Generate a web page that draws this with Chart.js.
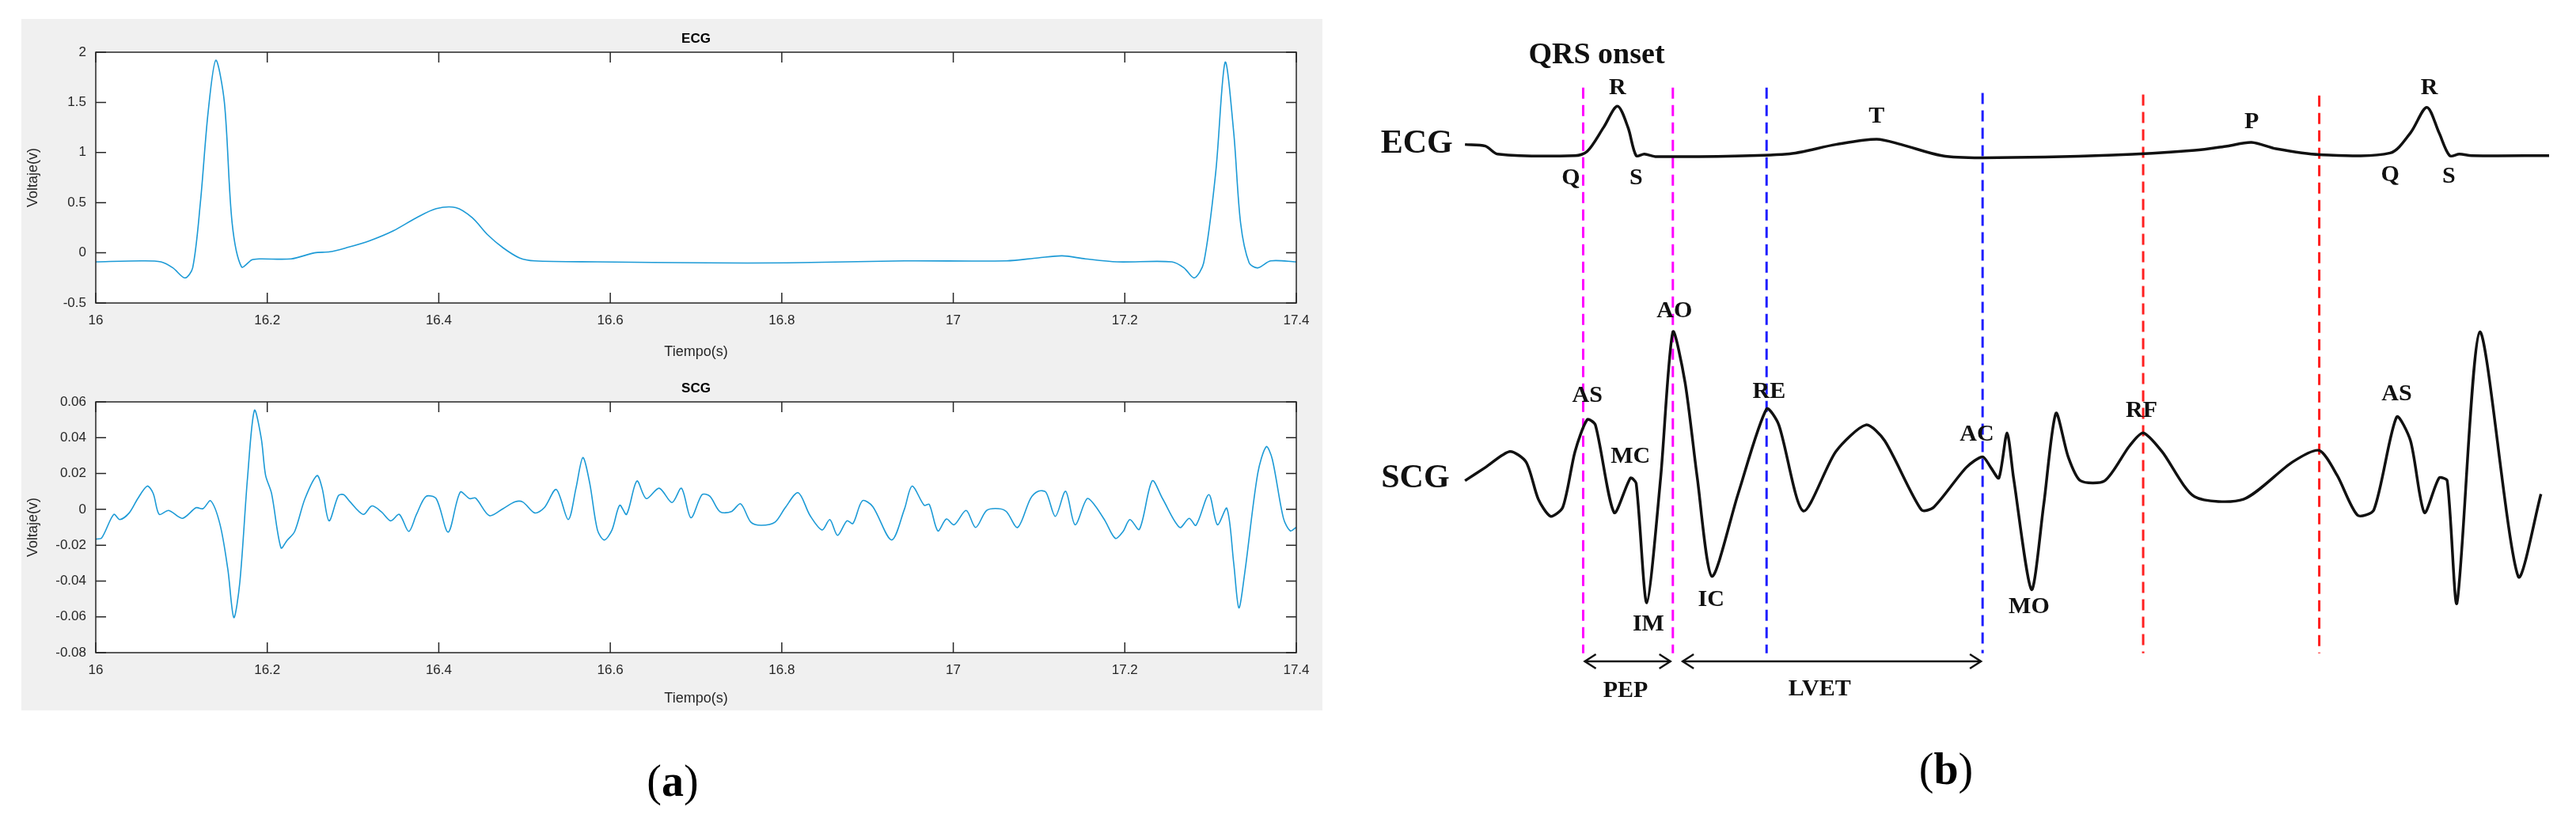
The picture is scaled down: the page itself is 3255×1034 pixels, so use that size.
<!DOCTYPE html>
<html>
<head>
<meta charset="utf-8">
<script src="https://cdn.jsdelivr.net/npm/chart.js@4.4.0/dist/chart.umd.min.js"></script>
<style>
  body { margin: 0; background: #fff; width: 3255px; height: 1034px; position: relative; overflow: hidden; }
  #panelA { position: absolute; left: 27px; top: 24px; width: 1644px; height: 874px; background: #f0f0f0; }
  canvas { position: absolute; }
  .cap { position: absolute; font-family: 'Liberation Serif', serif; font-size: 56px; transform: translateX(-50%); }
</style>
</head>
<body>
<div id="panelA"></div>
<canvas id="ecgChart" style="left:27px;top:24px;width:1644px;height:436px" width="1644" height="436"></canvas>
<canvas id="scgChart" style="left:27px;top:462px;width:1644px;height:436px" width="1644" height="436"></canvas>
<canvas id="schemChart" style="left:1640px;top:0;width:1615px;height:1034px" width="1615" height="1034"></canvas>
<div class="cap" style="left:850px;top:955px">(<b>a</b>)</div>
<div class="cap" style="left:2459px;top:940px">(<b>b</b>)</div>
<script>
// Panel (a): recorded signals
const ecgTime = [16.000, 16.053, 16.076, 16.090, 16.104, 16.113, 16.122, 16.131, 16.140, 16.150, 16.159, 16.170, 16.182, 16.191, 16.228, 16.255, 16.273, 16.292, 16.319, 16.347, 16.374, 16.397, 16.420, 16.439, 16.457, 16.475, 16.494, 16.512, 16.585, 16.714, 16.806, 16.943, 17.062, 17.099, 17.127, 17.154, 17.191, 17.255, 17.269, 17.281, 17.292, 17.306, 17.317, 17.327, 17.335, 17.345, 17.355, 17.370, 17.400];
const ecgVolt = [-0.09, -0.08, -0.09, -0.15, -0.25, -0.15, 0.5, 1.4, 1.92, 1.5, 0.3, -0.14, -0.07, -0.06, -0.06, 0.0, 0.01, 0.05, 0.12, 0.22, 0.35, 0.44, 0.45, 0.35, 0.18, 0.05, -0.05, -0.08, -0.09, -0.1, -0.1, -0.08, -0.08, -0.05, -0.03, -0.06, -0.09, -0.09, -0.15, -0.25, -0.1, 0.8, 1.9, 1.2, 0.3, -0.1, -0.15, -0.08, -0.09];

const scgTime = [16.000, 16.007, 16.021, 16.028, 16.039, 16.049, 16.060, 16.067, 16.074, 16.085, 16.101, 16.117, 16.125, 16.134, 16.145, 16.154, 16.161, 16.168, 16.177, 16.185, 16.193, 16.198, 16.205, 16.216, 16.223, 16.232, 16.244, 16.258, 16.264, 16.272, 16.283, 16.289, 16.296, 16.312, 16.322, 16.333, 16.344, 16.354, 16.365, 16.374, 16.385, 16.397, 16.411, 16.425, 16.436, 16.443, 16.459, 16.475, 16.489, 16.498, 16.512, 16.523, 16.537, 16.551, 16.560, 16.568, 16.576, 16.585, 16.593, 16.602, 16.611, 16.619, 16.631, 16.642, 16.657, 16.672, 16.683, 16.694, 16.707, 16.716, 16.728, 16.741, 16.752, 16.764, 16.776, 16.792, 16.804, 16.819, 16.833, 16.847, 16.856, 16.865, 16.876, 16.883, 16.894, 16.906, 16.928, 16.943, 16.952, 16.966, 16.972, 16.982, 16.992, 17.001, 17.015, 17.026, 17.039, 17.053, 17.062, 17.075, 17.090, 17.099, 17.108, 17.119, 17.131, 17.142, 17.156, 17.165, 17.177, 17.189, 17.198, 17.206, 17.217, 17.232, 17.244, 17.264, 17.275, 17.283, 17.298, 17.308, 17.319, 17.327, 17.333, 17.340, 17.355, 17.365, 17.372, 17.385, 17.393, 17.400];
const scgVolt = [-0.0166, -0.0159, -0.0028, -0.0057, -0.0020, 0.0060, 0.0130, 0.0089, -0.0028, -0.0006, -0.0050, 0.0009, 0.0004, 0.0048, -0.0086, -0.0334, -0.0604, -0.0407, 0.0177, 0.0553, 0.0396, 0.0191, 0.0089, -0.0215, -0.0174, -0.0123, 0.0060, 0.0188, 0.0118, -0.0064, 0.0077, 0.0082, 0.0045, -0.0028, 0.0019, -0.0013, -0.0064, -0.0028, -0.0123, -0.0028, 0.0072, 0.0060, -0.0127, 0.0096, 0.0060, 0.0063, -0.0035, 0.0004, 0.0042, 0.0041, -0.0020, 0.0009, 0.0111, -0.0057, 0.0118, 0.0289, 0.0147, -0.0115, -0.0171, -0.0115, 0.0023, -0.0028, 0.0158, 0.0060, 0.0118, 0.0038, 0.0118, -0.0047, 0.0082, 0.0074, -0.0013, -0.0013, 0.0031, -0.0072, -0.0089, -0.0072, 0.0009, 0.0093, -0.0035, -0.0115, -0.0057, -0.0145, -0.0064, -0.0079, 0.0048, 0.0016, -0.0171, 0.0001, 0.0130, 0.0023, 0.0028, -0.0120, -0.0054, -0.0086, -0.0006, -0.0101, -0.0006, 0.0004, -0.0013, -0.0101, 0.0060, 0.0101, 0.0096, -0.0039, 0.0101, -0.0086, 0.0060, 0.0023, -0.0064, -0.0162, -0.0123, -0.0057, -0.0112, 0.0159, 0.0060, -0.0101, -0.0050, -0.0089, 0.0082, -0.0086, 0.0006, -0.030, -0.055, -0.035, 0.020, 0.035, 0.028, -0.005, -0.012, -0.010];

const timeTicks = [16, 16.2, 16.4, 16.6, 16.8, 17, 17.2, 17.4];
const ecgTicks = [-0.5, 0, 0.5, 1, 1.5, 2];
const scgTicks = [-0.08, -0.06, -0.04, -0.02, 0, 0.02, 0.04, 0.06];

// Panel (b): schematic traces (drawing units)
const schemEcgX = [205, 230, 245, 340, 355, 375, 392, 405, 415, 425, 440, 600, 660, 710, 740, 790, 840, 1000, 1100, 1140, 1170, 1200, 1253, 1340, 1365, 1385, 1400, 1413, 1425, 1440, 1535];
const schemEcgY = [272, 275, 290, 293, 285, 240, 200, 240, 293, 290, 295, 290, 272, 262, 272, 293, 297, 292, 283, 275, 268, 280, 291, 288, 250, 202, 250, 293, 290, 293, 293];
const schemScgX = [205, 230, 260, 280, 295, 310, 325, 340, 355, 365, 388, 408, 415, 428, 445, 460, 475, 490, 508, 540, 575, 590, 620, 660, 697, 720, 765, 780, 820, 840, 850, 860, 870, 878, 900, 915, 930, 945, 960, 990, 1020, 1037, 1060, 1100, 1160, 1220, 1253, 1275, 1300, 1320, 1348, 1365, 1382, 1400, 1410, 1422, 1450, 1497, 1525];
const schemScgY = [905, 880, 850, 870, 940, 972, 955, 850, 790, 800, 965, 900, 910, 1135, 900, 625, 720, 900, 1085, 930, 770, 800, 962, 850, 800, 830, 960, 955, 880, 860, 880, 900, 815, 900, 1110, 950, 778, 860, 905, 905, 840, 815, 850, 935, 940, 870, 848, 895, 970, 960, 785, 830, 965, 900, 905, 1135, 625, 1085, 930];

const markerX = [350, 460, 575, 840, 1037, 1253];
const markerTop = [165, 165, 165, 175, 178, 180];
const markerColor = ['#ff00ff', '#ff00ff', '#1f1fff', '#1f1fff', '#ff2020', '#ff2020'];
const markerBottom = 1230;

const waveLabels = ['R', 'Q', 'S', 'T', 'P', 'R', 'Q', 'S', 'AS', 'MC', 'AO', 'IM', 'IC', 'RE', 'AC', 'MO', 'RF', 'AS', 'PEP', 'LVET'];
const waveLabelX = [392, 335, 415, 710, 1170, 1388, 1340, 1412, 355, 408, 462, 430, 507, 578, 833, 897, 1035, 1348, 402, 640];
const waveLabelY = [165, 335, 335, 220, 230, 165, 330, 333, 745, 860, 585, 1175, 1130, 738, 818, 1143, 773, 742, 1300, 1297];

const arrowFrom = [352, 472];
const arrowTo = [457, 838];
const arrowY = 1245;

const lineBlue = '#1c9ad6';

function zip(xs, ys) {
    return xs.map((x, i) => ({ x: x, y: ys[i] }));
}

function fmt(v) {
    return String(Math.round(v * 1000) / 1000);
}

// MATLAB-like box with inward ticks and centred title
const matlabBox = {
    id: 'matlabBox',
    beforeDatasetsDraw(chart) {
        const { ctx, chartArea: a } = chart;
        ctx.save();
        ctx.fillStyle = '#fff';
        ctx.fillRect(a.left, a.top, a.right - a.left, a.bottom - a.top);
        ctx.restore();
    },
    afterDraw(chart, args, opts) {
        const { ctx, chartArea: a, scales } = chart;
        ctx.save();
        ctx.strokeStyle = '#262626';
        ctx.lineWidth = 1.5;
        ctx.strokeRect(a.left, a.top, a.right - a.left, a.bottom - a.top);
        ctx.beginPath();
        opts.xTicks.forEach(v => {
            const px = scales.x.getPixelForValue(v);
            ctx.moveTo(px, a.bottom); ctx.lineTo(px, a.bottom - 13);
            ctx.moveTo(px, a.top); ctx.lineTo(px, a.top + 13);
        });
        opts.yTicks.forEach(v => {
            const py = scales.y.getPixelForValue(v);
            ctx.moveTo(a.left, py); ctx.lineTo(a.left + 13, py);
            ctx.moveTo(a.right, py); ctx.lineTo(a.right - 13, py);
        });
        ctx.stroke();
        ctx.fillStyle = '#000';
        ctx.font = 'bold 17px "Liberation Sans", Arial';
        ctx.textAlign = 'center';
        ctx.textBaseline = 'bottom';
        ctx.fillText(opts.title, (a.left + a.right) / 2, a.top - 8);
        ctx.restore();
    }
};

function signalChart(id, xs, ys, yTicks, title, padTop) {
    const yMin = yTicks[0], yMax = yTicks[yTicks.length - 1];
    return new Chart(document.getElementById(id), {
        type: 'line',
        data: { datasets: [{ data: zip(xs, ys), borderColor: lineBlue, borderWidth: 1.6, pointRadius: 0, tension: 0.3 }] },
        options: {
            responsive: false, animation: false,
            layout: { padding: { top: padTop, right: 33, left: 0, bottom: 0 } },
            plugins: { legend: { display: false }, tooltip: { enabled: false },
                matlabBox: { title: title, xTicks: timeTicks, yTicks: yTicks } },
            scales: {
                x: {
                    type: 'linear', min: 16, max: 17.4,
                    afterBuildTicks: s => { s.ticks = timeTicks.map(v => ({ value: v })); },
                    afterFit: s => { s.height = 436 - padTop - 317; },
                    grid: { display: false }, border: { display: false },
                    ticks: { callback: fmt, color: '#262626', font: { family: '"Liberation Sans", Arial', size: 17 }, maxRotation: 0, padding: 4 },
                    title: { display: true, text: 'Tiempo(s)', color: '#262626', font: { family: '"Liberation Sans", Arial', size: 18 }, padding: { top: 2 } }
                },
                y: {
                    type: 'linear', min: yMin, max: yMax,
                    afterBuildTicks: s => { s.ticks = yTicks.map(v => ({ value: v })); },
                    afterFit: s => { s.width = 94; },
                    grid: { display: false }, border: { display: false },
                    ticks: { callback: fmt, color: '#262626', font: { family: '"Liberation Sans", Arial', size: 17 }, padding: 4 },
                    title: { display: true, text: 'Voltaje(v)', color: '#262626', font: { family: '"Liberation Sans", Arial', size: 18 }, padding: { bottom: 2 } }
                }
            }
        },
        plugins: [matlabBox]
    });
}

signalChart('ecgChart', ecgTime, ecgVolt, ecgTicks, 'ECG', 42);
signalChart('scgChart', scgTime, scgVolt, scgTicks, 'SCG', 46);

// Schematic annotations
const schemNotes = {
    id: 'schemNotes',
    afterDraw(chart) {
        const { ctx, scales: { x, y } } = chart;
        ctx.save();
        ctx.fillStyle = '#111';
        ctx.textAlign = 'center';
        ctx.textBaseline = 'middle';
        ctx.font = 'bold 30px "Liberation Serif", serif';
        waveLabels.forEach((t, i) => {
            ctx.fillText(t, x.getPixelForValue(waveLabelX[i]), y.getPixelForValue(waveLabelY[i]));
        });
        ctx.font = 'bold 42px "Liberation Serif", serif';
        ctx.textAlign = 'right';
        ctx.fillText('ECG', x.getPixelForValue(190), y.getPixelForValue(272));
        ctx.fillText('SCG', x.getPixelForValue(186), y.getPixelForValue(902));
        ctx.textAlign = 'left';
        ctx.font = 'bold 38px "Liberation Serif", serif';
        ctx.fillText('QRS onset', x.getPixelForValue(283), y.getPixelForValue(105));
        // arrow heads
        ctx.strokeStyle = '#111';
        ctx.lineWidth = 2.5;
        const ay = y.getPixelForValue(arrowY);
        arrowFrom.forEach((f, i) => {
            const p1 = x.getPixelForValue(f), p2 = x.getPixelForValue(arrowTo[i]);
            ctx.beginPath();
            ctx.moveTo(p1 + 14, ay - 9); ctx.lineTo(p1, ay); ctx.lineTo(p1 + 14, ay + 9);
            ctx.moveTo(p2 - 14, ay - 9); ctx.lineTo(p2, ay); ctx.lineTo(p2 - 14, ay + 9);
            ctx.stroke();
        });
        ctx.restore();
    }
};

const schemSets = [
    { data: zip(schemEcgX, schemEcgY), borderColor: '#111', borderWidth: 3.5, pointRadius: 0, tension: 0.3 },
    { data: zip(schemScgX, schemScgY), borderColor: '#111', borderWidth: 3.5, pointRadius: 0, tension: 0.25 }
];
markerX.forEach((mx, i) => {
    schemSets.push({ data: [{ x: mx, y: markerTop[i] }, { x: mx, y: markerBottom }], borderColor: markerColor[i], borderWidth: 3, borderDash: [14, 8], pointRadius: 0 });
});
arrowFrom.forEach((f, i) => {
    schemSets.push({ data: [{ x: f, y: arrowY }, { x: arrowTo[i], y: arrowY }], borderColor: '#111', borderWidth: 2.5, pointRadius: 0 });
});

new Chart(document.getElementById('schemChart'), {
    type: 'line',
    data: { datasets: schemSets },
    options: {
        responsive: false, animation: false,
        layout: { padding: 0 },
        plugins: { legend: { display: false }, tooltip: { enabled: false } },
        scales: {
            x: { type: 'linear', min: 0, max: 1568, display: false },
            y: { type: 'linear', min: 0, max: 1540, reverse: true, display: false }
        }
    },
    plugins: [schemNotes]
});
</script>
</body>
</html>
